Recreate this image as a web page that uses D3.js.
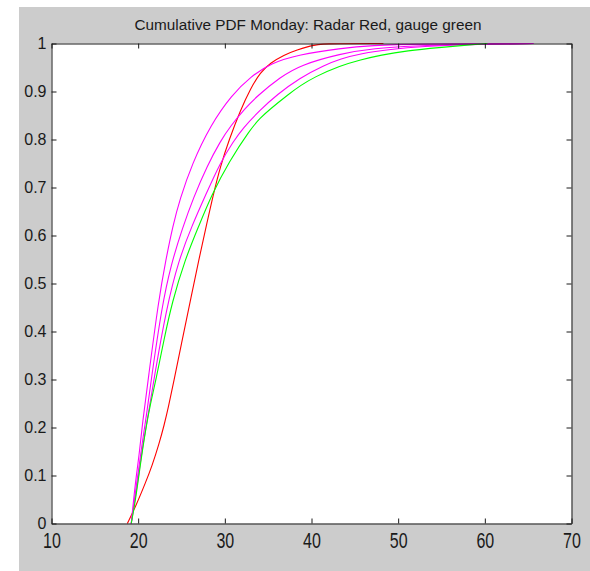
<!DOCTYPE html>
<html>
<head>
<meta charset="utf-8">
<script src="https://cdn.jsdelivr.net/npm/d3@7"></script>
<style>
  html, body { margin: 0; padding: 0; background: #ffffff; }
  svg { display: block; }
  text { font-family: "Liberation Sans", Arial, Helvetica, sans-serif; fill: #1a1a1a; }
</style>
</head>
<body>
<svg width="590" height="571"></svg>
<script>
// values
const titleText = "Cumulative PDF Monday: Radar Red, gauge green";
const xTicks = [10, 20, 30, 40, 50, 60, 70];
const yTicks = [0, 0.1, 0.2, 0.3, 0.4, 0.5, 0.6, 0.7, 0.8, 0.9, 1];
const yTickLabels = ["0", "0.1", "0.2", "0.3", "0.4", "0.5", "0.6", "0.7", "0.8", "0.9", "1"];

// radar (red)
const radarX = [18.75, 19.7, 20.85, 21.6, 22.4, 23.0, 23.5, 24.1, 25.0, 26.0, 27.0, 27.96, 28.6, 29.5, 30.5, 31.8, 32.96, 34.1, 35.3, 36.8, 38.35, 39.9, 41.0, 48.3];
const radarY = [0, 0.035, 0.085, 0.12, 0.165, 0.205, 0.243, 0.295, 0.375, 0.462, 0.55, 0.628, 0.68, 0.745, 0.80, 0.861, 0.906, 0.94, 0.96, 0.976, 0.987, 0.995, 1.0, 1.0];

// three magenta curves
const mag1X = [19.2, 19.7, 20.1, 20.5, 21.15, 22.35, 23.2, 24.0, 24.8, 26.23, 28.35, 30.8, 33.0, 35.3, 38.5, 43.35, 47.0, 52.0, 65.6];
const mag1Y = [0, 0.09, 0.14, 0.21, 0.299, 0.465, 0.55, 0.62, 0.675, 0.75, 0.83, 0.893, 0.931, 0.959, 0.977, 0.99, 0.996, 0.999, 1.0];
const mag2X = [19.2, 19.8, 20.4, 21.0, 21.5, 22.73, 23.8, 25.1, 26.4, 27.96, 29.5, 30.65, 32.4, 33.7, 36.4, 38.7, 43.35, 47.2, 52.0, 57.0, 65.6];
const mag2Y = [0, 0.08, 0.16, 0.23, 0.299, 0.452, 0.54, 0.615, 0.68, 0.745, 0.797, 0.828, 0.866, 0.89, 0.93, 0.955, 0.979, 0.99, 0.995, 0.998, 1.0];
const mag3X = [19.2, 19.9, 20.5, 21.2, 21.8, 23.27, 24.7, 26.2, 27.77, 29.5, 31.0, 32.0, 34.1, 36.0, 38.6, 41.5, 43.35, 45.65, 49.1, 52.9, 58.0, 65.6];
const mag3Y = [0, 0.08, 0.16, 0.23, 0.299, 0.45, 0.55, 0.62, 0.684, 0.753, 0.796, 0.822, 0.862, 0.893, 0.928, 0.955, 0.968, 0.979, 0.988, 0.994, 0.998, 1.0];

// gauge (green)
const gaugeX = [19.2, 19.7, 20.27, 20.85, 21.42, 22.05, 23.0, 23.9, 25.4, 27.0, 28.46, 30.46, 32.96, 34.1, 35.07, 37.4, 38.7, 40.3, 43.35, 45.65, 48.0, 51.0, 54.9, 57.6, 60.3];
const gaugeY = [0, 0.049, 0.125, 0.195, 0.25, 0.299, 0.385, 0.46, 0.55, 0.62, 0.684, 0.753, 0.822, 0.845, 0.861, 0.895, 0.912, 0.93, 0.954, 0.966, 0.976, 0.985, 0.992, 0.996, 1.0];

const series = [
  {xs: radarX, ys: radarY, color: "#ff0000"},
  {xs: mag1X, ys: mag1Y, color: "#ff00ff"},
  {xs: mag2X, ys: mag2Y, color: "#ff00ff"},
  {xs: mag3X, ys: mag3Y, color: "#ff00ff"},
  {xs: gaugeX, ys: gaugeY, color: "#00ff00"}
];

const svg = d3.select("svg");

// grey figure background
svg.append("rect").attr("x", 19).attr("y", 7).attr("width", 571).attr("height", 564).attr("fill", "#cccccc");

const plotLeft = 51.5, plotRight = 571.5, plotTop = 43.5, plotBottom = 523.5;

const xScale = d3.scaleLinear().domain([10, 70]).range([plotLeft, plotRight]);
const yScale = d3.scaleLinear().domain([0, 1]).range([plotBottom, plotTop]);

svg.append("rect").attr("x", plotLeft).attr("y", plotTop).attr("width", plotRight - plotLeft).attr("height", plotBottom - plotTop).attr("fill", "#ffffff");

// curves
const line = d3.line().x(d => xScale(d[0])).y(d => yScale(d[1])).curve(d3.curveBasis);
series.forEach(s => {
  svg.append("path")
    .datum(s.xs.map((x, i) => [x, s.ys[i]]))
    .attr("d", line)
    .attr("fill", "none")
    .attr("stroke", s.color)
    .attr("stroke-width", 1.1);
});

// axes, ticks pointing inwards on all four sides
const bottomAxis = svg.append("g").attr("transform", "translate(0," + plotBottom + ")")
  .call(d3.axisBottom(xScale).tickValues(xTicks).tickSizeInner(-5).tickSizeOuter(0));
bottomAxis.selectAll("text")
  .attr("y", 0).attr("dy", null)
  .attr("transform", "translate(0,24) scale(1,1.39)")
  .style("font-size", "16px");

const leftAxis = svg.append("g").attr("transform", "translate(" + plotLeft + ",0)")
  .call(d3.axisLeft(yScale).tickValues(yTicks).tickFormat((d, i) => yTickLabels[i]).tickSizeInner(-5).tickSizeOuter(0));
leftAxis.selectAll("text").attr("x", -5).style("font-size", "16px");

svg.append("g").attr("transform", "translate(0," + plotTop + ")")
  .call(d3.axisTop(xScale).tickValues(xTicks).tickFormat("").tickSizeInner(-5).tickSizeOuter(0));
svg.append("g").attr("transform", "translate(" + plotRight + ",0)")
  .call(d3.axisRight(yScale).tickValues(yTicks).tickFormat("").tickSizeInner(-5).tickSizeOuter(0));

svg.selectAll(".domain").attr("stroke", "#1a1a1a");
svg.selectAll(".tick line").attr("stroke", "#1a1a1a");
svg.selectAll(".tick text").attr("fill", "#1a1a1a").attr("font-family", null);

// title
svg.append("text")
  .attr("x", 308).attr("y", 29.5)
  .attr("text-anchor", "middle")
  .style("font-size", "15.3px")
  .text(titleText);
</script>
</body>
</html>
